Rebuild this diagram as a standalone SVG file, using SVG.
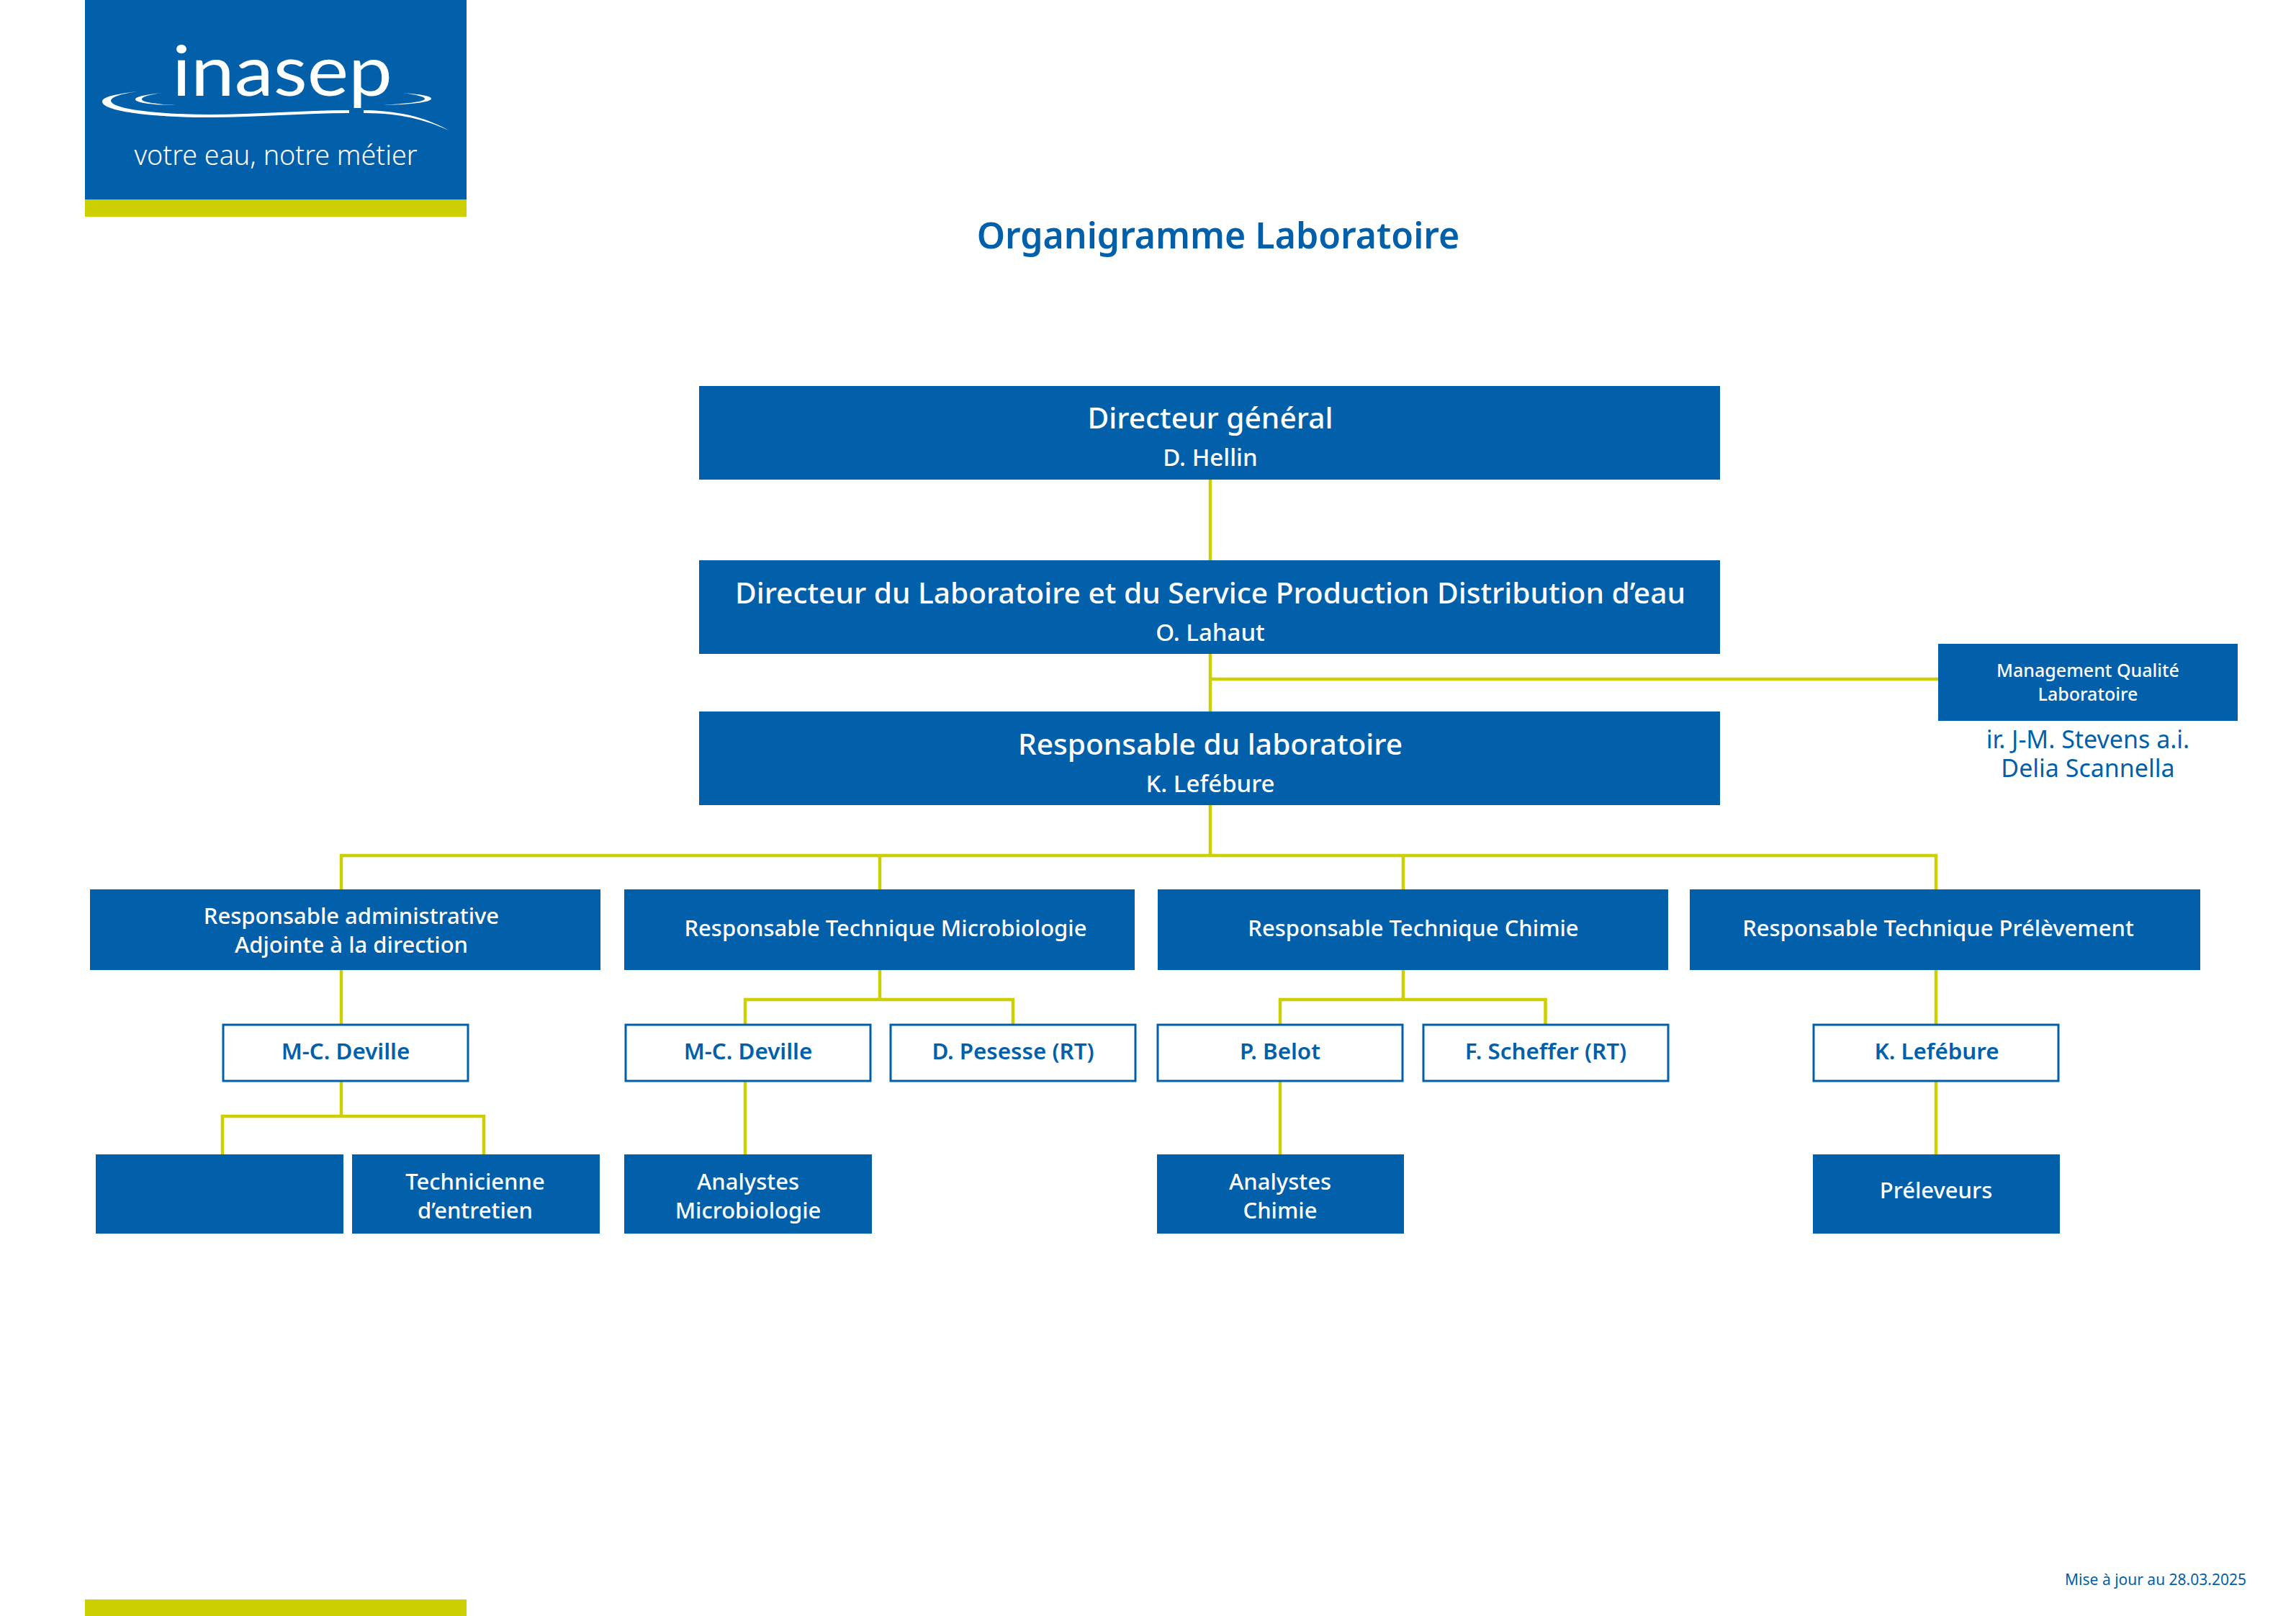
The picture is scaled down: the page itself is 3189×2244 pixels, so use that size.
<svg xmlns="http://www.w3.org/2000/svg" width="3189" height="2244" viewBox="0 0 3189 2244">
<style>
text{font-family:"Noto Sans","Open Sans",sans-serif;text-anchor:middle;font-weight:500}
.f{fill:#0260ab}.l{fill:#cdd000}
.c{stroke:#cdd000;stroke-width:4.5;fill:none}
.o{fill:#fff;stroke:#0260ab;stroke-width:3}
.w{fill:#fff}.b{fill:#0260ab}
.h1{font-size:40.7px}.h2{font-size:33px}.h3{font-size:31px}.m{font-size:31.3px;font-weight:600}.s{font-size:25px}.n{font-size:34px;font-weight:400}
</style>
<rect width="3189" height="2244" fill="#fff"/>
<g id="logo">
<rect class="f" x="118" y="0" width="530" height="277"/>
<rect class="l" x="118" y="277" width="530" height="24"/>
<text x="392" y="133" class="w" style="font-family:Lato,sans-serif;font-weight:400;font-size:97px" textLength="306" lengthAdjust="spacingAndGlyphs">inasep</text>
<path class="w" d="M191 127C165 130 142 134 142 141C142 155 215 163 290 163C360 163 420 157 485 157L485 153C420 153 360 159 290 159C225 159 155 152 154 140C155 134 170 130 191 127ZM225 129C205 131 188 134 188 138C188 143 215 146 244 146C220 145 197 142 197 138C197 134 210 131 225 129ZM560 129C582 131 599 133 599 137C599 142 570 145 533 146C560 144 590 142 590 137C590 134 575 131 560 129ZM505 153C560 154 595 165 623 181C590 166 555 157 505 157Z"/>
<text x="383" y="229" class="w" style="font-weight:300;font-size:37.7px">votre eau, notre métier</text>
</g>
<rect id="footer-bar" class="l" x="118" y="2221" width="530" height="23"/>
<text id="title" x="1692" y="345" class="b" style="font-size:50px;font-weight:600">Organigramme Laboratoire</text>
<text id="date" x="2994" y="2201" class="b" style="font-size:21px;font-weight:400">Mise à jour au 28.03.2025</text>
<g id="connectors" class="c">
<path d="M1681 665V988M1681 943H2692M1681 1118V1188M471.800 1188H2691.200M474 1188V1235M1222 1188V1235M1949 1188V1235M2689 1188V1235"/>
<path d="M474 1347V1422M474 1501V1550M306.800 1550H674.200M309 1550V1603M672 1550V1603M1222 1347V1388M1032.800 1388H1409.200M1035 1388V1422M1407 1388V1422M1949 1347V1388M1775.800 1388H2148.700M1778 1388V1422M2146.500 1388V1422M2689 1347V1422M2689 1501V1603M1035 1501V1603M1778 1501V1603"/>
</g>
<g id="n1"><rect class="f" x="971" y="536" width="1418" height="130"/><text class="w h1" x="1681" y="595">Directeur général</text><text class="w h2" x="1681" y="647">D. Hellin</text></g>
<g id="n2"><rect class="f" x="971" y="778" width="1418" height="130"/><text class="w h1" x="1681" y="838">Directeur du Laboratoire et du Service Production Distribution d’eau</text><text class="w h2" x="1681" y="890">O. Lahaut</text></g>
<g id="n3"><rect class="f" x="971" y="988" width="1418" height="130"/><text class="w h1" x="1681" y="1048">Responsable du laboratoire</text><text class="w h2" x="1681" y="1100">K. Lefébure</text></g>
<g id="n4"><rect class="f" x="2692" y="894" width="416" height="107"/><text class="w s" x="2900" y="940">Management Qualité</text><text class="w s" x="2900" y="973">Laboratoire</text><text class="b n" x="2900" y="1039">ir. J-M. Stevens a.i.</text><text class="b n" x="2900" y="1079">Delia Scannella</text></g>
<g id="n5"><rect class="f" x="125" y="1235" width="709" height="112"/><text class="w h3" x="488" y="1283">Responsable administrative</text><text class="w h3" x="488" y="1323">Adjointe à la direction</text></g>
<g id="n6"><rect class="f" x="867" y="1235" width="709" height="112"/><text class="w h3" x="1230" y="1300">Responsable Technique Microbiologie</text></g>
<g id="n7"><rect class="f" x="1608" y="1235" width="709" height="112"/><text class="w h3" x="1963" y="1300">Responsable Technique Chimie</text></g>
<g id="n8"><rect class="f" x="2347" y="1235" width="709" height="112"/><text class="w h3" x="2692" y="1300">Responsable Technique Prélèvement</text></g>
<g id="n9"><rect class="o" x="310" y="1423" width="340" height="78"/><text class="b m" x="480" y="1471">M-C. Deville</text></g>
<g id="n10"><rect class="o" x="869" y="1423" width="340" height="78"/><text class="b m" x="1039" y="1471">M-C. Deville</text></g>
<g id="n11"><rect class="o" x="1237" y="1423" width="340" height="78"/><text class="b m" x="1407" y="1471">D. Pesesse (RT)</text></g>
<g id="n12"><rect class="o" x="1608" y="1423" width="340" height="78"/><text class="b m" x="1778" y="1471">P. Belot</text></g>
<g id="n13"><rect class="o" x="1977" y="1423" width="340" height="78"/><text class="b m" x="2147" y="1471">F. Scheffer (RT)</text></g>
<g id="n14"><rect class="o" x="2519" y="1423" width="340" height="78"/><text class="b m" x="2690" y="1471">K. Lefébure</text></g>
<g id="n15"><rect class="f" x="133" y="1603" width="344" height="110"/></g>
<g id="n16"><rect class="f" x="489" y="1603" width="344" height="110"/><text class="w h3" x="660" y="1652">Technicienne</text><text class="w h3" x="660" y="1692">d’entretien</text></g>
<g id="n17"><rect class="f" x="867" y="1603" width="344" height="110"/><text class="w h3" x="1039" y="1652">Analystes</text><text class="w h3" x="1039" y="1692">Microbiologie</text></g>
<g id="n18"><rect class="f" x="1607" y="1603" width="343" height="110"/><text class="w h3" x="1778" y="1652">Analystes</text><text class="w h3" x="1778" y="1692">Chimie</text></g>
<g id="n19"><rect class="f" x="2518" y="1603" width="343" height="110"/><text class="w h3" x="2689" y="1664">Préleveurs</text></g>
</svg>
